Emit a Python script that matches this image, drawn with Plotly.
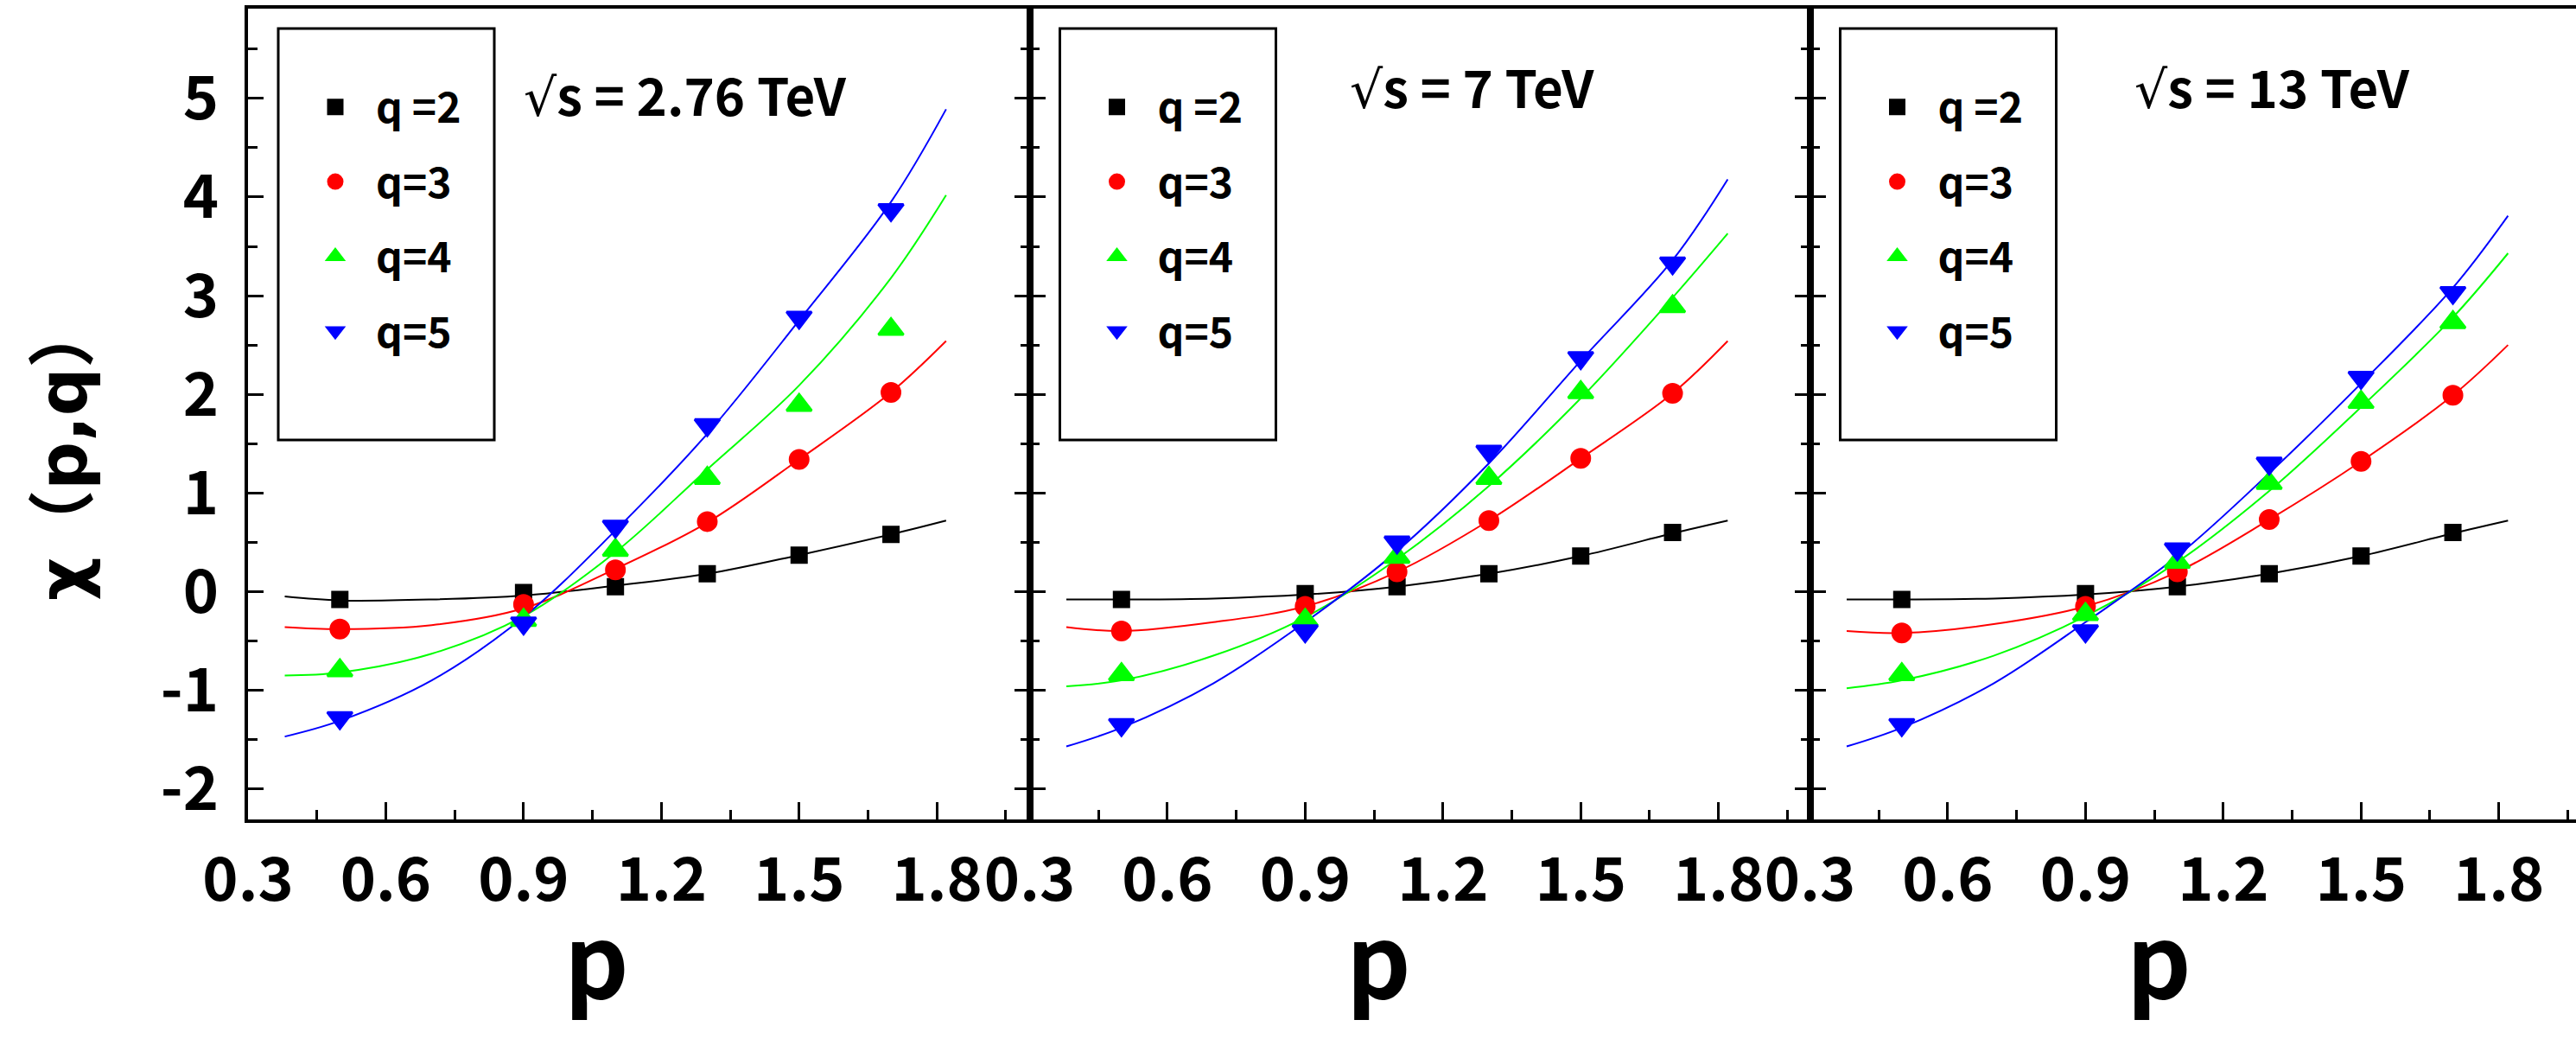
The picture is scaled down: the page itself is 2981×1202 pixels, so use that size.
import plotly.graph_objects as go

# ---------------- data ----------------
P_DATA = [0.5, 0.9, 1.1, 1.3, 1.5, 1.7]
P_FIT = [0.38, 0.5, 0.7, 0.9, 1.1, 1.3, 1.5, 1.7, 1.82]

Q_LABELS = ["q =2", "q=3", "q=4", "q=5"]
ENERGY_LABELS = ["√s = 2.76 TeV", "√s = 7 TeV", "√s = 13 TeV"]
Y_TITLE = "χ（p,q）"
X_TITLE = "p"
Y_TICKS = [-2, -1, 0, 1, 2, 3, 4, 5]
Y_TICK_TEXT = ["-2", "-1", "0", "1", "2", "3", "4", "5"]

# sqrt(s) = 2.76 TeV
chi_276_q2 = [-0.08, -0.01, 0.05, 0.18, 0.37, 0.58]
chi_276_q3 = [-0.38, -0.13, 0.22, 0.71, 1.34, 2.02]
chi_276_q4 = [-0.80, -0.29, 0.42, 1.15, 1.89, 2.66]
chi_276_q5 = [-1.28, -0.32, 0.66, 1.69, 2.78, 3.87]
fit_276_q2 = [-0.05, -0.09, -0.08, -0.04, 0.06, 0.18, 0.37, 0.58, 0.72]
fit_276_q3 = [-0.36, -0.38, -0.34, -0.17, 0.23, 0.70, 1.34, 2.02, 2.54]
fit_276_q4 = [-0.85, -0.82, -0.63, -0.25, 0.40, 1.24, 2.09, 3.18, 4.02]
fit_276_q5 = [-1.47, -1.31, -0.90, -0.26, 0.62, 1.60, 2.75, 3.95, 4.89]

# sqrt(s) = 7 TeV
chi_7_q2 = [-0.08, -0.02, 0.05, 0.18, 0.36, 0.60]
chi_7_q3 = [-0.40, -0.15, 0.20, 0.72, 1.35, 2.01]
chi_7_q4 = [-0.84, -0.29, 0.35, 1.15, 2.02, 2.89]
chi_7_q5 = [-1.35, -0.40, 0.50, 1.42, 2.37, 3.33]
fit_7_q2 = [-0.08, -0.08, -0.07, -0.03, 0.05, 0.18, 0.36, 0.59, 0.72]
fit_7_q3 = [-0.36, -0.40, -0.31, -0.15, 0.20, 0.72, 1.35, 2.01, 2.54]
fit_7_q4 = [-0.96, -0.90, -0.65, -0.26, 0.33, 1.07, 1.96, 2.98, 3.63]
fit_7_q5 = [-1.57, -1.38, -0.93, -0.31, 0.41, 1.30, 2.34, 3.36, 4.18]

# sqrt(s) = 13 TeV
chi_13_q2 = [-0.08, -0.02, 0.05, 0.18, 0.36, 0.60]
chi_13_q3 = [-0.42, -0.15, 0.20, 0.73, 1.32, 1.99]
chi_13_q4 = [-0.84, -0.23, 0.30, 1.10, 1.92, 2.73]
chi_13_q5 = [-1.35, -0.40, 0.43, 1.30, 2.17, 3.03]
fit_13_q2 = [-0.08, -0.08, -0.07, -0.03, 0.05, 0.18, 0.36, 0.59, 0.72]
fit_13_q3 = [-0.40, -0.42, -0.33, -0.15, 0.20, 0.73, 1.32, 1.99, 2.50]
fit_13_q4 = [-0.98, -0.90, -0.65, -0.25, 0.30, 1.02, 1.87, 2.78, 3.43]
fit_13_q5 = [-1.57, -1.38, -0.93, -0.31, 0.36, 1.20, 2.11, 3.08, 3.81]

PANELS = [
    ([chi_276_q2, chi_276_q3, chi_276_q4, chi_276_q5],
     [fit_276_q2, fit_276_q3, fit_276_q4, fit_276_q5]),
    ([chi_7_q2, chi_7_q3, chi_7_q4, chi_7_q5],
     [fit_7_q2, fit_7_q3, fit_7_q4, fit_7_q5]),
    ([chi_13_q2, chi_13_q3, chi_13_q4, chi_13_q5],
     [fit_13_q2, fit_13_q3, fit_13_q4, fit_13_q5]),
]

# ---------------- style ----------------
COLORS = ["#000000", "#FF0000", "#00FF00", "#0000FF"]
SYMBOLS = ["square", "circle", "triangle-up", "triangle-down"]
SIZES = [17, 21, 25, 25]

W, H = 2981, 1202
ML, MR, MT, MB = 287, 0, 10, 254
PW, PH = W - ML - MR, H - MT - MB
EDGES = [287, 1191.5, 2094.5, 2981]     # panel borders in pixels
UNIT = 903.5 / 1.7                       # px per unit of p

FONT = "Noto Sans CJK SC, DejaVu Sans, sans-serif"
TICK_FONT = dict(family=FONT, size=70, color="black", weight="bold")
LEG_FONT = dict(family=FONT, size=48, color="black", weight="bold")


def px_x(px):
    return (px - ML) / PW


def px_y(py):
    return (H - MB - py) / PH


fig = go.Figure()

for i, (chis, fits) in enumerate(PANELS):
    ax = "" if i == 0 else str(i + 1)
    leg = "legend" if i == 0 else "legend" + str(i + 1)
    for k in range(4):
        fig.add_trace(go.Scatter(
            x=P_FIT, y=fits[k], mode="lines", line=dict(color=COLORS[k], width=2, shape="spline"),
            xaxis="x" + ax, yaxis="y" + ax, showlegend=False, hoverinfo="skip"))
    for k in range(4):
        fig.add_trace(go.Scatter(
            x=P_DATA, y=chis[k], mode="markers", name=Q_LABELS[k],
            marker=dict(symbol=SYMBOLS[k], size=SIZES[k], color=COLORS[k],
                        line=dict(width=3, color=COLORS[k])),
            xaxis="x" + ax, yaxis="y" + ax, legend=leg, legendgroup=f"p{i}q{k}"))

layout = dict(
    width=W, height=H, margin=dict(l=ML, r=MR, t=MT, b=MB),
    paper_bgcolor="white", plot_bgcolor="white",
    showlegend=True, shapes=[], annotations=[],
)

for i in range(3):
    ax = "" if i == 0 else str(i + 1)
    x0, x1 = EDGES[i], EDGES[i + 1]
    xr = [0.3, 0.3 + (x1 - x0) / UNIT]
    layout["xaxis" + ax] = dict(
        domain=[px_x(x0), px_x(x1)], range=xr, anchor="y" + ax,
        showline=True, linecolor="black", linewidth=4, mirror=True,
        ticks="inside", ticklen=20, tickwidth=3, tickcolor="black",
        tick0=0.3, dtick=0.3, tickformat=".1f", tickfont=TICK_FONT,
        ticklabelstandoff=6,
        minor=dict(dtick=0.15, ticks="inside", ticklen=11, tickwidth=3, tickcolor="black"),
        showgrid=False, zeroline=False,
    )
    layout["yaxis" + ax] = dict(
        domain=[0, 1], range=[-2.31, 5.91], anchor="x" + ax,
        showline=True, linecolor="black", linewidth=4,
        mirror=("ticks" if i < 2 else False),
        ticks="inside", ticklen=18, tickwidth=3, tickcolor="black",
        tickmode="array", tickvals=Y_TICKS, ticktext=Y_TICK_TEXT,
        tickfont=TICK_FONT, showticklabels=(i == 0),
        ticklabelstandoff=16,
        minor=dict(dtick=0.5, ticks="inside", ticklen=11, tickwidth=3, tickcolor="black"),
        showgrid=False, zeroline=False,
    )
    # legend frame (taller than its entries, as in the reference)
    bx0 = x0 + 35
    layout["shapes"].append(dict(
        type="rect", xref="paper", yref="paper",
        x0=px_x(bx0), x1=px_x(bx0 + 250), y0=px_y(33), y1=px_y(509),
        line=dict(color="black", width=3), fillcolor="rgba(0,0,0,0)"))
    leg = "legend" if i == 0 else "legend" + str(i + 1)
    layout[leg] = dict(
        x=px_x(bx0 + 19), y=px_y(86), xanchor="left", yanchor="top",
        bgcolor="rgba(0,0,0,0)", borderwidth=0, font=LEG_FONT,
        tracegroupgap=21, itemwidth=84,
    )

# energy labels (thin radical sign as in the reference)
ROOT = '<span style="font-family:DejaVu Sans;font-weight:normal">√</span>'
ENERGY_POS = [(793, 108), (1703, 98), (2629, 98)]
for (cx, cy), txt in zip(ENERGY_POS, ENERGY_LABELS):
    layout["annotations"].append(dict(
        text=txt.replace("√", ROOT), xref="paper", yref="paper", x=px_x(cx), y=px_y(cy),
        xanchor="center", yanchor="middle", showarrow=False,
        font=dict(family=FONT, size=60, color="black", weight="bold")))

# x titles
for i in range(3):
    ax = "" if i == 0 else str(i + 1)
    layout["annotations"].append(dict(
        text=X_TITLE, xref="x" + ax, yref="paper", x=1.06, y=px_y(1104),
        xanchor="center", yanchor="middle", showarrow=False,
        font=dict(family=FONT, size=116, color="black", weight="bold")))

# y title
layout["annotations"].append(dict(
    text=Y_TITLE, xref="paper", yref="paper", x=px_x(73), y=px_y(521),
    xanchor="center", yanchor="middle", showarrow=False, textangle=-90,
    font=dict(family="DejaVu Sans, Noto Sans CJK SC, sans-serif", size=78, color="black", weight="bold")))

fig.update_layout(**layout)
fig.write_html("out.html")
